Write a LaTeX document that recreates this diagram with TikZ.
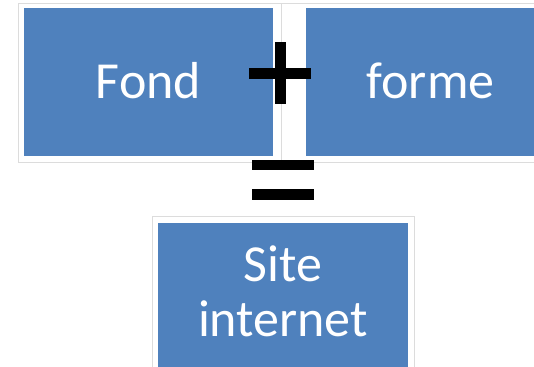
\documentclass[tikz,border=0pt]{standalone}
\usepackage{fontspec}
\newfontfamily\boxfont{Carlito}
\definecolor{boxblue}{HTML}{4F81BD}
\definecolor{framegray}{HTML}{DCDCDC}

\begin{document}
\begin{tikzpicture}[x=1pt,y=-1pt,
  bloc/.style={fill=boxblue,text=white,inner sep=0pt,
    font=\boxfont\fontsize{52}{55}\selectfont},
  cadre/.style={draw=framegray,line width=0.9pt,fill=white},
  barre/.style={fill=black,inner sep=0pt,minimum width=62pt,minimum height=11pt}
]
  \useasboundingbox (0,0) rectangle (534,366);

  \draw[cadre] (18,3) rectangle (281,162);
  \draw[cadre] (281,3) rectangle (570,162);
  \draw[cadre] (152,216) rectangle (414,380);

  \node[bloc, anchor=base, minimum width=249pt,
        text height=90.5pt, text depth=56.5pt] (fond) at (148.5,99) {Fond};
  \node[bloc, anchor=base, minimum width=249pt,
        text height=90.5pt, text depth=56.5pt] (forme) at (430.5,99) {forme};
  \node[bloc, anchor=base, align=center, minimum width=250pt,
        text height=113pt, text depth=40pt] (site) at (283,336) {Site\\internet};

  \coordinate (plus) at (280.3,73.5);
  \coordinate (egal) at (282.5,179.5);
  \node[barre] (plus-h) at (plus) {};
  \node[barre, minimum width=11pt, minimum height=62pt] (plus-v) at (plus) {};
  \node[barre, minimum height=11pt] (egal-1) at ([yshift=-14.5pt]egal) {};
  \node[barre, minimum height=10.5pt] (egal-2) at ([yshift=14.5pt]egal) {};
\end{tikzpicture}
\end{document}
